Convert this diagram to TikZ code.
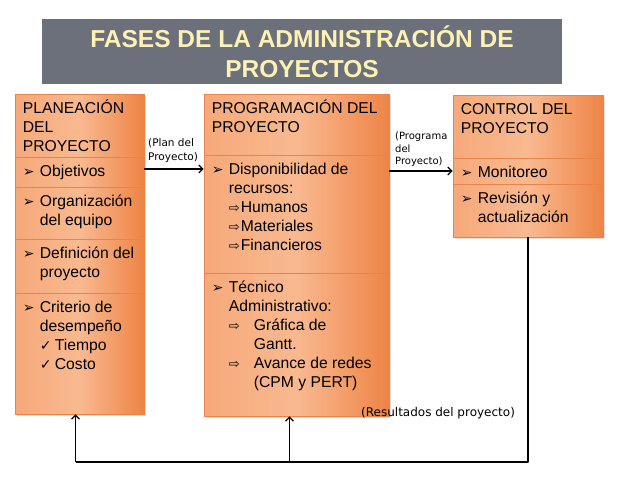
\documentclass[tikz,border=0pt]{standalone}
\usepackage{fontspec}
\setmainfont{Liberation Sans}
\newfontfamily\symfont{DejaVu Sans}
\usetikzlibrary{arrows.meta,fit,shadows,calc}
\definecolor{boxlight}{HTML}{F9B990}
\definecolor{boxmid}{HTML}{F6A97A}
\definecolor{boxdark}{HTML}{EE8446}
\definecolor{boxline}{HTML}{E8844A}
\definecolor{titlegray}{HTML}{6C707B}
\definecolor{titletext}{HTML}{FDF1B4}
% bullets and indents
\newcommand{\tp}{\rule{0pt}{20pt}}
\newcommand{\blt}{\makebox[17pt][l]{\symfont\fontsize{14}{14}\selectfont ➢}}
\newcommand{\ind}{\hspace*{17pt}}
\newcommand{\chk}{\makebox[15pt][l]{\symfont\fontsize{14}{14}\selectfont ✓}}
\newcommand{\arr}{\makebox[12pt][l]{\symfont\fontsize{13}{13}\selectfont ⇨}}
\newcommand{\arrw}{\makebox[25pt][l]{\symfont\fontsize{13}{13}\selectfont ⇨}}
\begin{document}
\begin{tikzpicture}[x=1pt, y=-1pt, line join=round,
  sec/.style={draw=boxline, line width=0.6pt, inner sep=0pt,
    left color=boxmid, right color=boxdark, middle color=boxlight,
    drop shadow={opacity=0.25, shadow xshift=1.5pt, shadow yshift=-2pt}},
  txt/.style={anchor=north west, inner sep=0pt, xshift=8pt, align=left,
    font=\fontsize{15.7}{19}\selectfont},
  lbl/.style={inner sep=0pt, align=left, font=\symfont\fontsize{10.5}{14}\selectfont},
  flow/.style={-{Straight Barb[length=4pt,width=8pt,line width=1.3pt]}, line width=1.3pt},
  back/.style={line width=1.8pt}]
\useasboundingbox (0,0) rectangle (638,479);
% title
\node[fill=titlegray, minimum width=520pt, minimum height=65pt, inner sep=0pt,
  text=titletext, align=center, font=\bfseries\fontsize{24.5}{30}\selectfont]
  (title) at (302,51.5) {FASES DE LA ADMINISTRACIÓN DE\\PROYECTOS};
% planeacion
\node[sec, fit={(15,94) (144,157)}] (planhead) {};
\node[txt] at (planhead.north west) {\tp PLANEACIÓN\\DEL\\PROYECTO};
\node[sec, fit={(15,157) (144,187)}] (objetivos) {};
\node[txt] at (objetivos.north west) {\tp\blt Objetivos};
\node[sec, fit={(15,187) (144,239)}] (equipo) {};
\node[txt] at (equipo.north west) {\tp\blt Organización\\\ind del equipo};
\node[sec, fit={(15,239) (144,293)}] (definicion) {};
\node[txt] at (definicion.north west) {\tp\blt Definición del\\\ind proyecto};
\node[sec, fit={(15,293) (144,414)}] (criterio) {};
\node[txt] at (criterio.north west) {\tp\blt Criterio de\\\ind desempeño\\\ind\chk Tiempo\\\ind\chk Costo};
% programacion
\node[sec, fit={(204,94) (389,155)}] (proghead) {};
\node[txt] at (proghead.north west) {\tp PROGRAMACIÓN DEL\\PROYECTO};
\node[sec, fit={(204,155) (389,273)}] (recursos) {};
\node[txt] at (recursos.north west) {\tp\blt Disponibilidad de\\\ind recursos:\\\ind\arr Humanos\\\ind\arr Materiales\\\ind\arr Financieros};
\node[sec, fit={(204,273) (389,416)}] (tecnico) {};
\node[txt] at (tecnico.north west) {\tp\blt Técnico\\\ind Administrativo:\\\ind\arrw Gráfica de\\\ind\hspace*{25pt}Gantt.\\\ind\arrw Avance de redes\\\ind\hspace*{25pt}(CPM y PERT)};
% control
\node[sec, fit={(453,95) (603,158)}] (conthead) {};
\node[txt] at (conthead.north west) {\tp CONTROL DEL\\PROYECTO};
\node[sec, fit={(453,158) (603,184)}] (monitoreo) {};
\node[txt] at (monitoreo.north west) {\tp\blt Monitoreo};
\node[sec, fit={(453,184) (603,237)}] (revision) {};
\node[txt] at (revision.north west) {\tp\blt Revisión y\\\ind actualización};
% flujo
\draw[flow] ($(objetivos.east)+(0,-3)$) -- ($(objetivos.east -| recursos.west)+(0,-3)$);
\draw[flow] (recursos.east |- monitoreo.west) -- (monitoreo.west);
\node[lbl, anchor=south west] (planlbl) at (148,163) {(Plan del\\Proyecto)};
\node[lbl, anchor=south west, font=\symfont\fontsize{10}{12.5}\selectfont] (proglbl) at (395,167) {(Programa\\del\\Proyecto)};
\node[lbl, anchor=base west, font=\symfont\fontsize{12}{14}\selectfont] (reslbl) at (361,416) {(Resultados del proyecto)};
% retroalimentacion
\coordinate (fb) at (0,462);
\draw[back] (revision.south) -- (revision.south |- fb) -- ($(criterio.south |- fb)+(-4,0)$);
\draw[flow] ($(criterio.south |- fb)+(-4,0)$) -- ($(criterio.south)+(-4,0)$);
\draw[flow] ($(tecnico.south |- fb)+(-7,0)$) -- ($(tecnico.south)+(-7,0)$);
\end{tikzpicture}
\end{document}
